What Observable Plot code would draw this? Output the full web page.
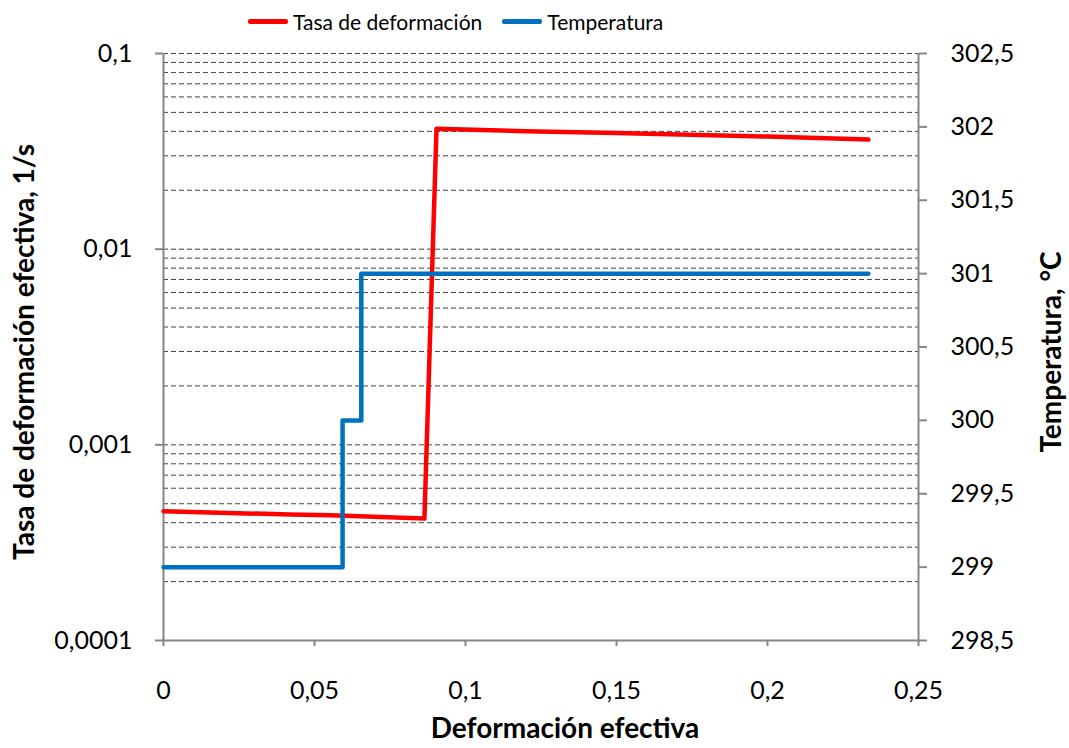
<!DOCTYPE html>
<html>
<head>
<meta charset="utf-8">
<script src="https://cdn.jsdelivr.net/npm/d3@7"></script>
<script src="https://cdn.jsdelivr.net/npm/@observablehq/plot@0.6"></script>
<style>
  body { margin: 0; background: #fff; }
  #wrap { position: relative; width: 1069px; height: 748px; font-family: Lato, "Open Sans", sans-serif; }
  #wrap svg { position: absolute; left: 0; top: 0; background: transparent; }
  #legend { position: absolute; top: 9px; left: 248px; display: flex; align-items: center; font-size: 21px; color: #000; z-index: 2; }
  .item { display: flex; align-items: center; margin-right: 20px; }
  .sw { width: 40px; height: 5px; border-radius: 2px; margin-right: 5px; }
</style>
</head>
<body>
<div id="wrap">
  <div id="legend"></div>
</div>
<script>
// ---- data ----
const seriesNames = ["Tasa de deformación", "Temperatura"];
const seriesColors = ["#ff0000", "#0070c0"];

const rateX = [0, 0.042, 0.0553, 0.0864, 0.0904, 0.12, 0.15, 0.2, 0.2334];
const rateY = [0.000458, 0.00044, 0.000437, 0.00042, 0.0413, 0.0401, 0.0392, 0.0376, 0.0363];

const tempX = [0, 0.0593, 0.0593, 0.0655, 0.0655, 0.2334];
const tempY = [299, 299, 300, 300, 301, 301];

const xTicks = [0, 0.05, 0.1, 0.15, 0.2, 0.25];
const leftTicks = [0.0001, 0.001, 0.01, 0.1];
const rightTicks = [298.5, 299, 299.5, 300, 300.5, 301, 301.5, 302, 302.5];
const gridValues = [
  0.0002, 0.0003, 0.0004, 0.0005, 0.0006, 0.0007, 0.0008, 0.0009, 0.001,
  0.002, 0.003, 0.004, 0.005, 0.006, 0.007, 0.008, 0.009, 0.01,
  0.02, 0.03, 0.04, 0.05, 0.06, 0.07, 0.08, 0.09, 0.1
];

const xTitle = "Deformación efectiva";
const leftTitle = "Tasa de deformación efectiva, 1/s";
const rightTitle = "Temperatura, °C";

// ---- build ----
const rate = rateX.map((x, i) => ({x, y: rateY[i]}));
const temp = tempX.map((x, i) => ({x, y: tempY[i]}));
const fmt = d => String(d).replace(".", ",");
const axisGray = "#868686";
const W = 1069, H = 748;
const margins = {marginLeft: 163, marginRight: 151, marginTop: 53, marginBottom: 108};
const FS = 25;
const TFS = 28;

const p1 = Plot.plot({
  width: W, height: H, ...margins,
  style: {fontFamily: "Lato, 'Open Sans', sans-serif", background: "transparent"},
  x: {domain: [0, 0.25]},
  y: {type: "log", domain: [0.0001, 0.1]},
  marks: [
    Plot.ruleY(gridValues, {stroke: "#444", strokeWidth: 1, strokeDasharray: "5,3"}),
    Plot.axisY({ticks: leftTicks, tickFormat: fmt, tickSize: 8, tickPadding: 23, fontSize: FS, stroke: axisGray, strokeWidth: 2, fill: "#000", label: null}),
    Plot.axisX({ticks: xTicks, tickFormat: fmt, tickSize: 6, tickPadding: 35, fontSize: FS, stroke: axisGray, strokeWidth: 2, fill: "#000", label: null}),
    Plot.ruleX([0], {stroke: axisGray, strokeWidth: 2}),
    Plot.ruleX([0.25], {stroke: axisGray, strokeWidth: 2}),
    Plot.ruleY([0.0001], {stroke: axisGray, strokeWidth: 2}),
    Plot.line(rate, {x: "x", y: "y", stroke: seriesColors[0], strokeWidth: 4.5}),
    Plot.text([leftTitle], {frameAnchor: "left", textAnchor: "middle", rotate: -90, dx: -138, dy: 5, fontSize: TFS, fontWeight: "bold", fill: "#000"}),
    Plot.text([xTitle], {frameAnchor: "bottom", textAnchor: "middle", dy: 97, dx: 24, fontSize: TFS, fontWeight: "bold", fill: "#000"})
  ]
});

const p2 = Plot.plot({
  width: W, height: H, ...margins,
  style: {fontFamily: "Lato, 'Open Sans', sans-serif", background: "transparent"},
  x: {domain: [0, 0.25], axis: null},
  y: {domain: [298.5, 302.5], axis: null},
  marks: [
    Plot.axisY({anchor: "right", ticks: rightTicks, tickFormat: fmt, tickSize: 8, tickPadding: 24, fontSize: FS, stroke: axisGray, strokeWidth: 2, fill: "#000", label: null}),
    Plot.line(temp, {x: "x", y: "y", stroke: seriesColors[1], strokeWidth: 4.5}),
    Plot.text([rightTitle], {frameAnchor: "right", textAnchor: "middle", rotate: -90, dx: 134, dy: 5, fontSize: TFS, fontWeight: "bold", fill: "#000"})
  ]
});

const wrap = document.getElementById("wrap");
wrap.appendChild(p1);
wrap.appendChild(p2);

const legend = document.getElementById("legend");
seriesNames.forEach((n, i) => {
  const it = document.createElement("div");
  it.className = "item";
  it.innerHTML = `<span class="sw" style="background:${seriesColors[i]}"></span><span>${n}</span>`;
  legend.appendChild(it);
});
</script>
</body>
</html>
